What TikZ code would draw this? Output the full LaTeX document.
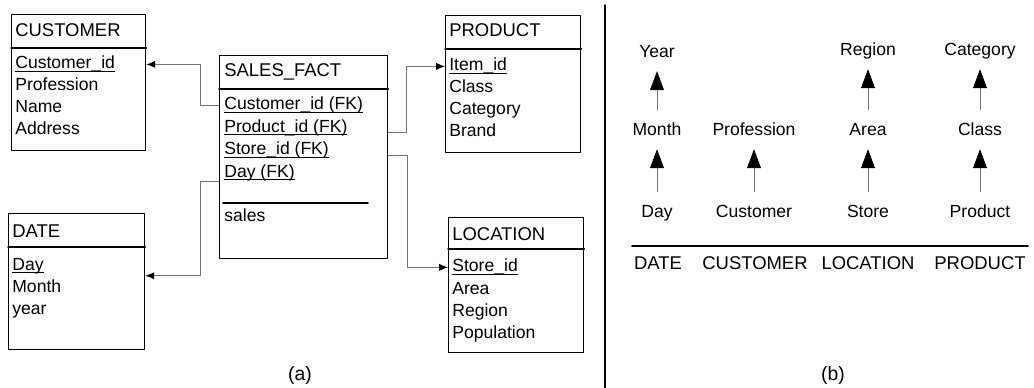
\documentclass[tikz,border=0pt]{standalone}
\usepackage{fontspec}
\setmainfont{Liberation Sans}
\usetikzlibrary{arrows.meta,calc}

\newcommand\keyline[1]{\setbox0\hbox{#1}\rlap{\rule[-1.7pt]{\wd0}{0.6pt}}#1}

\tikzset{
  tbl/.style={draw, line width=0.8pt, anchor=north west, inner sep=0pt},
  ttl/.style={anchor=base west, inner sep=0pt, font=\fontsize{10.5}{12}\selectfont},
  row/.style={anchor=base west, inner sep=0pt, font=\fontsize{10}{12}\selectfont},
  fk/.style={draw=black!55, line width=0.4pt, -{Latex[length=5pt,width=4pt,color=black]}},
  lvl/.style={font=\fontsize{10}{12}\selectfont, text height=1.5ex, text depth=.25ex, inner sep=1pt},
  up/.style={draw=black!55, line width=0.4pt, shorten <=0.2cm, shorten >=0.18cm,
    -{Triangle[length=0.38cm,width=0.28cm,color=black]}},
  dim/.style={font=\fontsize{10.5}{12}\selectfont, inner sep=1pt}
}

\begin{document}
\begin{tikzpicture}[x=0.02cm, y=-0.02cm, line cap=round, line join=round]
  \useasboundingbox (0,0) rectangle (1034,388);
  % CUSTOMER
  \node[tbl, minimum width=2.68cm, minimum height=2.72cm] (custbox) at (11,14) {};
  \draw[line width=0.8pt] (custbox.west |- 0,48) -- (custbox.east |- 0,48);
  \node[ttl] (customer) at (15,37) {CUSTOMER};
  \foreach \t [count=\i] in {\keyline{Customer\_id},Profession,Name,Address}
    \node[row] (cust-\i) at (15,{69+22*(\i-1)}) {\t};
  % SALES_FACT
  \node[tbl, minimum width=3.36cm, minimum height=4.06cm] (salesbox) at (219,55) {};
  \draw[line width=0.8pt] (salesbox.west |- 0,89) -- (salesbox.east |- 0,89);
  \node[ttl] (sales) at (224,77) {SALES\_FACT};
  \foreach \t [count=\i] in {Customer\_id (FK),Product\_id (FK),Store\_id (FK),Day (FK)}
    \node[row] (sf-\i) at (224,{110+22.5*(\i-1)}) {\keyline{\t}};
  \draw[line width=0.9pt] (223,203) -- (368,203);
  \node[row] (sf-m) at (224,222) {sales};
  % PRODUCT
  \node[tbl, minimum width=2.70cm, minimum height=2.74cm] (prodbox) at (445,15) {};
  \draw[line width=0.8pt] (prodbox.west |- 0,49) -- (prodbox.east |- 0,49);
  \node[ttl] (prod) at (449,37) {PRODUCT};
  \foreach \t [count=\i] in {\keyline{Item\_id},Class,Category,Brand}
    \node[row] (prod-\i) at (449,{71+22*(\i-1)}) {\t};
  % LOCATION
  \node[tbl, minimum width=2.70cm, minimum height=2.70cm] (locbox) at (448,217) {};
  \draw[line width=0.8pt] (locbox.west |- 0,249) -- (locbox.east |- 0,249);
  \node[ttl] (loc) at (452,240) {LOCATION};
  \foreach \t [count=\i] in {\keyline{Store\_id},Area,Region,Population}
    \node[row] (loc-\i) at (452,{272+22*(\i-1)}) {\t};
  % DATE
  \node[tbl, minimum width=2.72cm, minimum height=2.72cm] (datebox) at (8,213) {};
  \draw[line width=0.8pt] (datebox.west |- 0,247) -- (datebox.east |- 0,247);
  \node[ttl] (date) at (12,237) {DATE};
  \foreach \t [count=\i] in {\keyline{Day},Month,year}
    \node[row] (date-\i) at (12,{270+22*(\i-1)}) {\t};
  \coordinate (date-in) at ($(date-1)!.5!(date-2)$);
  % foreign keys
  \draw[fk] (salesbox.west |- sf-1) -- ++(-19,0) |- (custbox.east |- cust-1);
  \draw[fk] (salesbox.east |- sf-2.base) -- ++(18,0) |- (prodbox.west |- prod-1);
  \draw[fk] (salesbox.east |- sf-3.base) -- ++(19,0) |- (locbox.west |- loc-1);
  \draw[fk] (salesbox.west |- sf-4.south) -- ++(-19,0) |- (datebox.east |- date-in);
  \node[font=\fontsize{11}{13}\selectfont] (capa) at (300,375) {(a)};
  % (b) hierarchies
  \draw[line width=0.9pt] (605,5) -- (605,388);
  \node[lvl] (year) at (657,52) {Year};
  \node[lvl] (month) at (657,130) {Month};
  \node[lvl] (day) at (657,212) {Day};
  \node[lvl] (prof) at (754,130) {Profession};
  \node[lvl] (cust) at (754,212) {Customer};
  \node[lvl] (region) at (868,50) {Region};
  \node[lvl] (area) at (868,130) {Area};
  \node[lvl] (store) at (868,212) {Store};
  \node[lvl] (cat) at (980,50) {Category};
  \node[lvl] (class) at (980,130) {Class};
  \node[lvl] (product) at (980,212) {Product};
  \foreach \a/\b in {day/month,month/year,cust/prof,store/area,area/region,product/class,class/cat}
    \draw[up] (\a) -- (\b);
  \draw[line width=0.9pt] (632,246) -- (1028,246);
  \node[dim] (d-date) at (658,263) {DATE};
  \node[dim] (d-cust) at (755,263) {CUSTOMER};
  \node[dim] (d-loc) at (868,263) {LOCATION};
  \node[dim] (d-prod) at (980,263) {PRODUCT};
  \node[font=\fontsize{11}{13}\selectfont] (capb) at (833,375) {(b)};
\end{tikzpicture}
\end{document}
